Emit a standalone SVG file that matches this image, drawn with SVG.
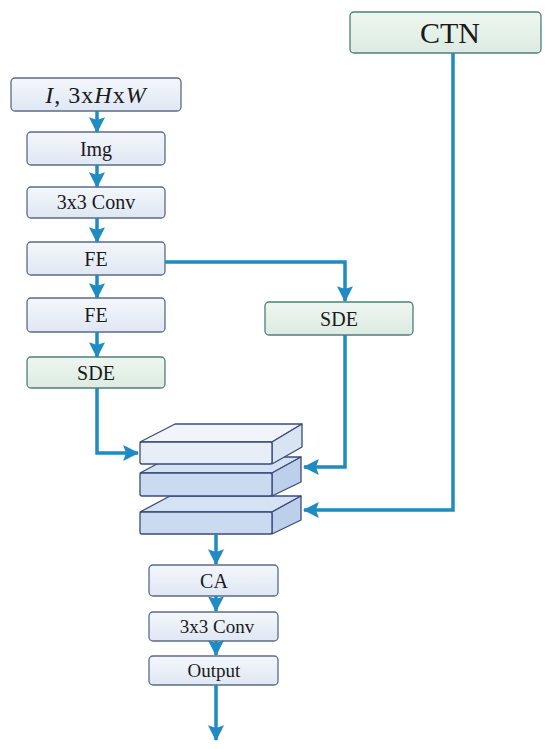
<svg xmlns="http://www.w3.org/2000/svg" width="550" height="749" viewBox="0 0 550 749">
<defs>
<linearGradient id="gb" x1="0" y1="0" x2="0" y2="1"><stop offset="0" stop-color="#f4f7fc"/><stop offset="1" stop-color="#dfe7f3"/></linearGradient>
<linearGradient id="gg" x1="0" y1="0" x2="0" y2="1"><stop offset="0" stop-color="#eef6f0"/><stop offset="1" stop-color="#dcebe2"/></linearGradient>
<marker id="ah" markerUnits="userSpaceOnUse" markerWidth="16" markerHeight="16" viewBox="0 0 14 14" refX="13" refY="7" orient="auto">
<path d="M0,0 L14,7 L0,14 L2.5,7 z" fill="#1e8bc3"/>
</marker>
</defs>
<style>
.bb{fill:url(#gb);stroke:#5b6b88;stroke-width:1.3}
.gb{fill:url(#gg);stroke:#4f7f78;stroke-width:1.3}
.t{font-family:"Liberation Serif",serif;fill:#1a1a1a;text-anchor:middle}
.c{fill:none;stroke:#1e8bc3;stroke-width:3.5;marker-end:url(#ah)}
.s{stroke:#3a4c78;stroke-width:1.3;stroke-linejoin:round}
</style>
<rect width="550" height="749" fill="#ffffff"/>

<g id="ctn"><rect class="gb" x="350" y="12" width="191" height="41" rx="4"/><text class="t" x="450" y="43" font-size="30">CTN</text></g>
<g id="input"><rect class="bb" x="11" y="78" width="170" height="33" rx="4"/><text class="t" x="96" y="103" font-size="24" letter-spacing="1"><tspan font-style="italic">I</tspan>, 3x<tspan font-style="italic">H</tspan>x<tspan font-style="italic">W</tspan></text></g>
<g id="img"><rect class="bb" x="27" y="132" width="138" height="33" rx="4"/><text class="t" x="96" y="156" font-size="20">Img</text></g>
<g id="conv1"><rect class="bb" x="27" y="187" width="138" height="31" rx="4"/><text class="t" x="96" y="209" font-size="20">3x3 Conv</text></g>
<g id="fe1"><rect class="bb" x="27" y="242" width="138" height="33" rx="4"/><text class="t" x="96" y="266" font-size="20">FE</text></g>
<g id="fe2"><rect class="bb" x="27" y="298" width="138" height="34" rx="4"/><text class="t" x="96" y="322" font-size="20">FE</text></g>
<g id="sde1"><rect class="gb" x="27" y="357" width="138" height="31" rx="4"/><text class="t" x="96" y="380" font-size="20">SDE</text></g>
<g id="sde2"><rect class="gb" x="265" y="302" width="148" height="33" rx="4"/><text class="t" x="339" y="326" font-size="20">SDE</text></g>

<g id="stack">
<g id="slab3">
<polygon class="s" points="140,512 170,496 301,496 272,512" fill="#d4e2f4"/>
<polygon class="s" points="272,512 301,496 301,520 272,534" fill="#bcd0ec"/>
<rect class="s" x="140" y="512" width="132" height="22" rx="2" fill="#c9daf1"/>
</g>
<g id="slab2">
<polygon class="s" points="140,473 170,457 301,457 272,473" fill="#d4e2f4"/>
<polygon class="s" points="272,473 301,457 301,482 272,496" fill="#bcd0ec"/>
<rect class="s" x="140" y="473" width="132" height="23" rx="2" fill="#c9daf1"/>
</g>
<g id="slab1">
<polygon class="s" points="140,442 175,424 302,424 272,442" fill="#f1f4fa"/>
<polygon class="s" points="272,442 302,424 302,447 272,464" fill="#d9e4f3"/>
<rect class="s" x="140" y="442" width="132" height="22" rx="2" fill="#e8eef8"/>
</g>
</g>

<g id="ca"><rect class="bb" x="149" y="565" width="129" height="31" rx="4"/><text class="t" x="214" y="588" font-size="20">CA</text></g>
<g id="conv2"><rect class="bb" x="149" y="612" width="129" height="29" rx="4"/><text class="t" x="217" y="633" font-size="19">3x3 Conv</text></g>
<g id="output"><rect class="bb" x="149" y="656" width="129" height="29" rx="4"/><text class="t" x="214" y="677" font-size="19">Output</text></g>

<g id="connectors">
<path class="c" d="M97,111 V132"/>
<path class="c" d="M97,165 V187"/>
<path class="c" d="M97,218 V242"/>
<path class="c" d="M97,275 V298"/>
<path class="c" d="M97,332 V357"/>
<path class="c" d="M165,262 H345 V301"/>
<path class="c" d="M97,388 V453 H138"/>
<path class="c" d="M345,335 V467 H304"/>
<path class="c" d="M453,53 V510 H304"/>
<path class="c" d="M216,534 V564"/>
<path class="c" d="M216,596 V611"/>
<path class="c" d="M216,641 V655"/>
<path class="c" d="M216,685 V740"/>
</g>
</svg>
